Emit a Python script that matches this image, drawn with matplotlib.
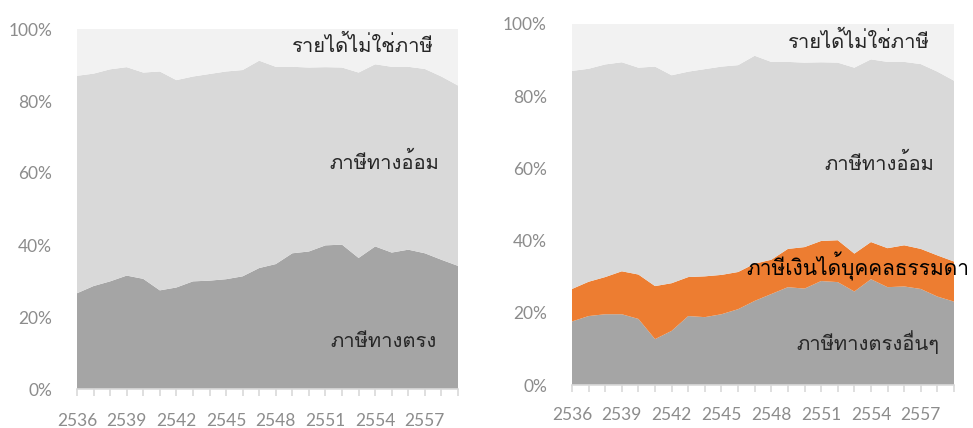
import matplotlib
matplotlib.use("Agg")
import matplotlib.pyplot as plt
from matplotlib import font_manager
from matplotlib.ft2font import FT2Font
import numpy as np

# ---------------- data (shares, %) ----------------
years = list(range(2536, 2560))
tick_labels = [str(y) for y in years[::3]]

other_direct = [17.6, 19.1, 19.6, 19.6, 18.3, 12.7, 15.0, 19.1, 18.8, 19.6, 21.0, 23.3,
                25.2, 27.1, 26.7, 28.8, 28.5, 25.9, 29.3, 27.1, 27.3, 26.6, 24.5, 23.1]
pit = [9.0, 9.5, 10.3, 11.9, 12.3, 14.7, 13.2, 10.8, 11.3, 10.9, 10.3, 10.3,
       9.5, 10.6, 11.5, 11.1, 11.6, 10.5, 10.3, 10.8, 11.4, 11.1, 11.4, 11.1]
indirect = [60.4, 59.0, 58.9, 57.9, 57.3, 60.8, 57.6, 56.9, 57.4, 57.7, 57.3, 57.6,
            54.8, 51.8, 51.1, 49.5, 49.2, 51.5, 50.6, 51.6, 50.8, 51.2, 50.9, 50.1]
nontax = [100 - a - b - c for a, b, c in zip(other_direct, pit, indirect)]

labels_left = ["ภาษีทางตรง", "ภาษีทางอ้อม", "รายได้ไม่ใช่ภาษี"]
labels_right = ["ภาษีทางตรงอื่นๆ", "ภาษีเงินได้บุคคลธรรมดา", "ภาษีทางอ้อม", "รายได้ไม่ใช่ภาษี"]

# ---------------- fonts ----------------
def find_thai_family():
    seen = set()
    for f in font_manager.fontManager.ttflist:
        if f.name in seen:
            continue
        seen.add(f.name)
        try:
            cm = FT2Font(f.fname).get_charmap()
        except Exception:
            continue
        if 0x0E20 in cm and 0x0E29 in cm:
            return f.name
    return None

thai = find_thai_family()
thai_fam = [thai, "DejaVu Sans"] if thai else ["DejaVu Sans"]
num_fam = ["Lato", "DejaVu Sans"]

c_nontax = "#f2f2f2"
c_ind = "#d9d9d9"
c_dir = "#a5a5a5"
c_pit = "#ed7d31"
tick_col = "#8c8c8c"

fig = plt.figure(figsize=(9.73, 4.28), dpi=100)
axL = fig.add_axes([77 / 973, 39 / 428, 381 / 973, 360 / 428])
axR = fig.add_axes([572 / 973, 43 / 428, 382 / 973, 361 / 428])

x = np.arange(len(years))
direct = [a + b for a, b in zip(other_direct, pit)]
axL.stackplot(x, np.array(direct) / 100, np.array(indirect) / 100, np.array(nontax) / 100,
              colors=[c_dir, c_ind, c_nontax], linewidth=0)
axR.stackplot(x, np.array(other_direct) / 100, np.array(pit) / 100,
              np.array(indirect) / 100, np.array(nontax) / 100,
              colors=[c_dir, c_pit, c_ind, c_nontax], linewidth=0)

for ax, xpad in ((axL, 12), (axR, 11)):
    ax.set_xlim(0, len(years) - 1)
    ax.set_ylim(0, 1)
    ax.set_facecolor("white")
    for s in ("top", "right", "left"):
        ax.spines[s].set_visible(False)
    ax.spines["bottom"].set_color("#d9d9d9")
    ax.spines["bottom"].set_linewidth(1.2)
    ax.set_xticks(x, minor=True)
    ax.set_xticks(x[::3])
    ax.set_xticklabels(tick_labels)
    ax.tick_params(axis="x", which="both", length=5, color="#d9d9d9", width=1.2,
                   pad=xpad, labelsize=12.5, labelcolor=tick_col)
    ax.set_yticks(np.linspace(0, 1, 6))
    ax.set_yticklabels([f"{int(v)}%" for v in np.linspace(0, 100, 6)])
    ax.tick_params(axis="y", length=0, pad=18, labelsize=12.5, labelcolor=tick_col)
    for lab in ax.get_xticklabels() + ax.get_yticklabels():
        lab.set_family(num_fam)

tkw = dict(ha="center", va="center", fontsize=14.5, family=thai_fam, color="#262626")
axL.text(0.751, 0.955, labels_left[2], transform=axL.transAxes, **tkw)
axL.text(0.806, 0.63, labels_left[1], transform=axL.transAxes, **tkw)
axL.text(0.804, 0.133, labels_left[0], transform=axL.transAxes, **tkw)

axR.text(0.751, 0.953, labels_right[3], transform=axR.transAxes, **tkw)
axR.text(0.804, 0.615, labels_right[2], transform=axR.transAxes, **tkw)
axR.text(0.749, 0.327, labels_right[1], transform=axR.transAxes, clip_on=False,
         **{**tkw, "color": "black", "fontsize": 15})
axR.text(0.775, 0.119, labels_right[0], transform=axR.transAxes, **tkw)

fig.savefig("out.png", dpi=100, facecolor="white")
